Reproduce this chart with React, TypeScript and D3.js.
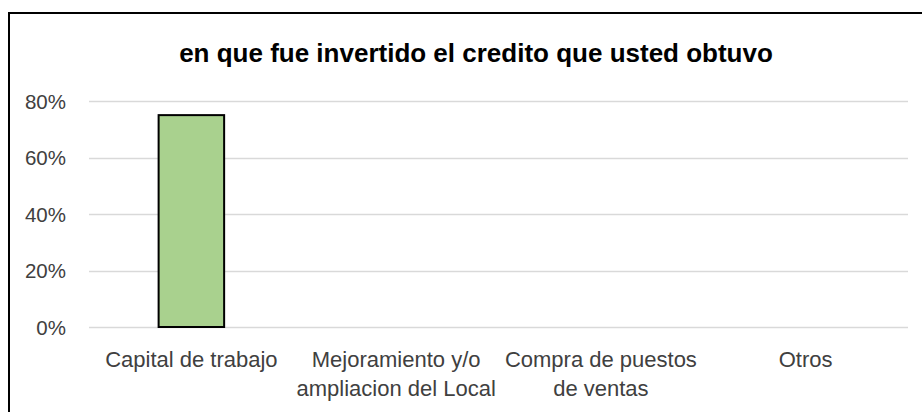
import React from 'react';
import * as d3 from 'd3';

const title = 'en que fue invertido el credito que usted obtuvo';
const categories = [
  ['Capital de trabajo'],
  ['Mejoramiento y/o', 'ampliacion del Local'],
  ['Compra de puestos', 'de ventas'],
  ['Otros'],
];
const values = [0.75, 0, 0, 0];
const yTicks = [0, 0.2, 0.4, 0.6, 0.8];

export default function App() {
  const ref = React.useRef<SVGSVGElement>(null);

  React.useEffect(() => {
    const width = 922;
    const height = 412;
    const margin = { top: 101, right: 14, bottom: 85, left: 89 };
    const font = 'Liberation Sans, Arial, sans-serif';

    const svg = d3.select(ref.current);
    svg.selectAll('*').remove();

    svg.append('rect')
      .attr('width', width)
      .attr('height', height)
      .attr('fill', '#fff');

    // chart border (runs off the right and bottom edges)
    svg.append('rect')
      .attr('x', 9)
      .attr('y', 13)
      .attr('width', 940)
      .attr('height', 440)
      .attr('fill', 'none')
      .attr('stroke', '#000')
      .attr('stroke-width', 2);

    svg.append('text')
      .attr('x', 476)
      .attr('y', 62)
      .attr('text-anchor', 'middle')
      .attr('font-family', font)
      .attr('font-weight', 'bold')
      .attr('font-size', 26)
      .attr('fill', '#000')
      .text(title);

    const x = d3.scaleBand<number>()
      .domain(d3.range(categories.length))
      .range([margin.left, width - margin.right])
      .paddingInner(0.68)
      .paddingOuter(0.34);

    const y = d3.scaleLinear()
      .domain([0, 0.8])
      .range([height - margin.bottom, margin.top]);

    // gridlines
    svg.append('g')
      .selectAll('line')
      .data(yTicks)
      .enter()
      .append('line')
      .attr('x1', margin.left)
      .attr('x2', width - margin.right)
      .attr('y1', d => Math.round(y(d)) + 0.5)
      .attr('y2', d => Math.round(y(d)) + 0.5)
      .attr('stroke', '#d9d9d9')
      .attr('stroke-width', 1.5);

    // y tick labels
    svg.append('g')
      .selectAll('text')
      .data(yTicks)
      .enter()
      .append('text')
      .attr('x', 66)
      .attr('y', d => y(d) + 7.5)
      .attr('text-anchor', 'end')
      .attr('font-family', font)
      .attr('font-size', 20.5)
      .attr('fill', '#404040')
      .text(d => d3.format('.0%')(d));

    // bars
    svg.append('g')
      .selectAll('rect')
      .data(values)
      .enter()
      .filter(d => d > 0)
      .append('rect')
      .attr('x', (_, i) => x(i) || 0)
      .attr('y', d => y(d))
      .attr('width', x.bandwidth())
      .attr('height', d => y(0) - y(d))
      .attr('fill', '#a9d18e')
      .attr('stroke', '#000')
      .attr('stroke-width', 2);

    // category labels
    const labels = svg.append('g')
      .selectAll('text')
      .data(categories)
      .enter()
      .append('text')
      .attr('x', (_, i) => (x(i) || 0) + x.bandwidth() / 2)
      .attr('y', height - margin.bottom + 40)
      .attr('text-anchor', 'middle')
      .attr('font-family', font)
      .attr('font-size', 22)
      .attr('fill', '#404040');

    labels.selectAll('tspan')
      .data(d => d)
      .enter()
      .append('tspan')
      .attr('x', function () {
        return (this.parentNode as SVGTextElement).getAttribute('x');
      })
      .attr('dy', (_, i) => (i === 0 ? 0 : 29))
      .text(d => d);
  }, []);

  return (
    <svg
      ref={ref}
      width={922}
      height={412}
      style={{ position: 'absolute', left: 0, top: 0, display: 'block' }}
    />
  );
}
